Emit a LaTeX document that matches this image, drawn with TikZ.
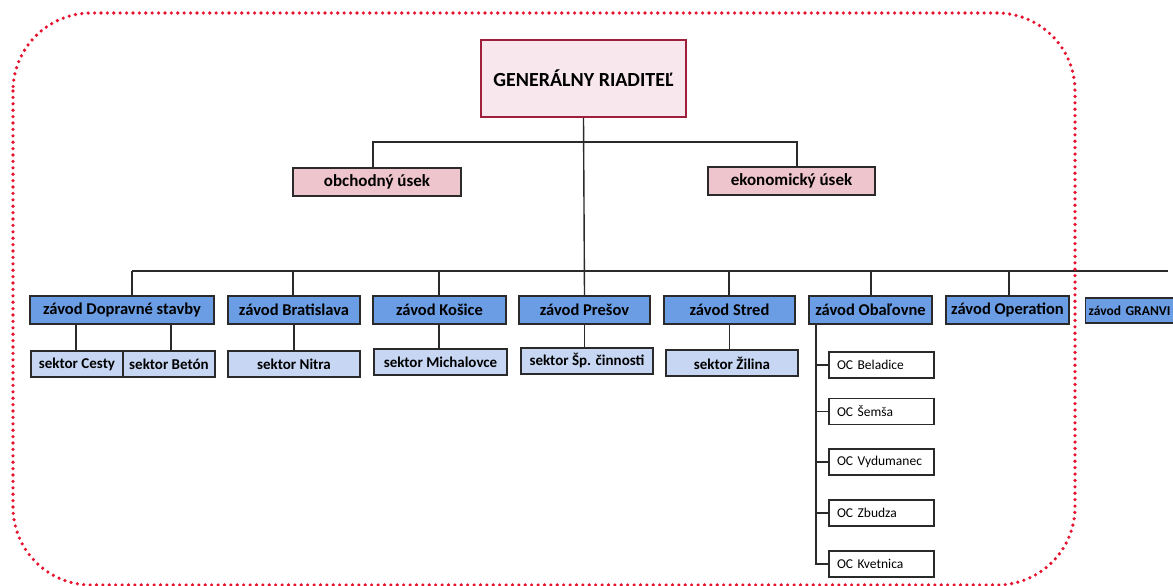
\documentclass[tikz,border=0pt]{standalone}
\usepackage{fontspec}
\setmainfont{Carlito}
\definecolor{frameRed}{HTML}{E5132D}
\definecolor{rootFill}{HTML}{F8E8EE}
\definecolor{rootLine}{HTML}{A0203C}
\definecolor{usekFill}{HTML}{EEC5CC}
\definecolor{zavFill}{HTML}{6B9DE4}
\definecolor{sekFill}{HTML}{C7D7F3}
\definecolor{lineCol}{HTML}{2A2A2A}
\tikzset{
  x=1pt, y=-1pt,
  box/.style={draw=lineCol, line width=1.4pt, inner sep=0pt, font=\bfseries},
  rootbox/.style={draw=rootLine, fill=rootFill, line width=2.2pt, inner sep=0pt, font=\fontsize{20}{22}\selectfont\bfseries},
  usekbox/.style={box, fill=usekFill, minimum height=28pt, font=\fontsize{17}{19}\selectfont\bfseries},
  zavbox/.style={box, fill=zavFill, minimum height=28pt, font=\fontsize{16.5}{18}\selectfont\bfseries},
  sekbox/.style={box, fill=sekFill, minimum height=26pt, font=\fontsize{15}{17}\selectfont\bfseries},
  ocbox/.style={draw=lineCol, fill=white, line width=1.3pt, minimum height=26pt, text width=89pt, inner xsep=8pt, inner ysep=0pt, align=left, font=\fontsize{13.5}{15}\selectfont},
  conn/.style={draw=lineCol, line width=1.4pt},
  dotframe/.style={draw=frameRed, line width=3.6pt, line cap=round, dash pattern=on 0pt off 6.4pt, rounded corners=78pt}
}
\begin{document}
\begin{tikzpicture}
\useasboundingbox (0,0) rectangle (1173,586);
\clip (0,0) rectangle (1173,586);

% root and upper level
\node[rootbox, minimum width=205pt, minimum height=77pt] (root) at (583.5,78.5) {GENERÁLNY RIADITEĽ};
\node[usekbox, minimum width=168pt] (obch) at (377,182) {obchodný úsek};
\node[usekbox, minimum width=167pt] (eko) at (791.5,181) {ekonomický úsek};

% level 3
\node[zavbox, minimum width=184pt] (dop) at (122,310) {závod Dopravné stavby};
\node[zavbox, minimum width=132pt] (bra) at (294,310) {závod Bratislava};
\node[zavbox, minimum width=133pt] (kos) at (439.5,310) {závod Košice};
\node[zavbox, minimum width=131pt] (pre) at (584.5,310) {závod Prešov};
\node[zavbox, minimum width=131pt] (str) at (729.5,310) {závod Stred};
\node[zavbox, minimum width=123pt] (oba) at (870.5,310) {závod Obaľovne};
\node[zavbox, minimum width=123pt] (ope) at (1007.5,310) {závod Operation};
\node[box, fill=zavFill, minimum width=86pt, minimum height=25pt, font=\fontsize{13.5}{15}\selectfont\bfseries, anchor=west, text width=84pt, inner xsep=3pt, align=left] (gra) at (1085,310.5) {závod GRANVI};

% level 4
\node[sekbox, minimum width=92pt] (ces) at (77,364) {sektor Cesty};
\node[sekbox, minimum width=92pt] (bet) at (169,364) {sektor Betón};
\node[sekbox, minimum width=132pt] (nit) at (294,364) {sektor Nitra};
\node[sekbox, minimum width=133pt] (mic) at (440.5,362) {sektor Michalovce};
\node[sekbox, minimum width=132pt] (spc) at (587,361) {sektor Šp. činnosti};
\node[sekbox, minimum width=132pt] (zil) at (732,363) {sektor Žilina};

% OC boxes
\node[ocbox] (oc1) at (881.5,365) {OC Beladice};
\node[ocbox] (oc2) at (881.5,411.5) {OC Šemša};
\node[ocbox] (oc3) at (881.5,462) {OC Vydumanec};
\node[ocbox] (oc4) at (881.5,513) {OC Zbudza};
\node[ocbox] (oc5) at (881.5,564) {OC Kvetnica};

% connectors upper
\coordinate (ubus) at (584,142);
\draw[conn] ([xshift=-4pt]obch.north) |- (ubus) -| ([xshift=5.5pt]eko.north);
\draw[conn] (root.south) -- (pre.north);

% lower bus
\coordinate (lbusL) at (132,271);
\coordinate (lbusR) at (1168,271);
\draw[conn] (lbusL) -- (lbusR);
\draw[conn] (lbusL) -- (lbusL |- dop.north);
\foreach \n/\xs in {bra/-1pt, kos/-0.5pt, str/-0.5pt, oba/0.5pt, ope/1.5pt}{
  \draw[conn] ([xshift=\xs]\n.north) -- ([xshift=\xs]\n.north |- lbusL);
}

% level 3 to level 4
\draw[conn] ([xshift=-1pt]ces.north) -- ([xshift=-1pt]ces.north |- dop.south);
\draw[conn] ([xshift=2pt]bet.north) -- ([xshift=2pt]bet.north |- dop.south);
\draw[conn] (nit.north) -- (nit.north |- bra.south);
\draw[conn] ([xshift=-1.5pt]mic.north) -- ([xshift=-1.5pt]mic.north |- kos.south);
\draw[conn] ([xshift=-2.5pt]spc.north) -- ([xshift=-2.5pt]spc.north |- pre.south);
\draw[conn] ([xshift=-2.5pt]zil.north) -- ([xshift=-2.5pt]zil.north |- str.south);

% OC spine
\coordinate (spTop) at (816,324);
\draw[conn, line width=1.2pt] (spTop) |- (oc5.west);
\foreach \n in {oc1,oc2,oc3,oc4}{
  \draw[conn, line width=1.2pt] (\n.west) -- (\n.west -| spTop);
}

% dotted frame
\draw[dotframe] (13,13) rectangle (1075,585);
\end{tikzpicture}
\end{document}
